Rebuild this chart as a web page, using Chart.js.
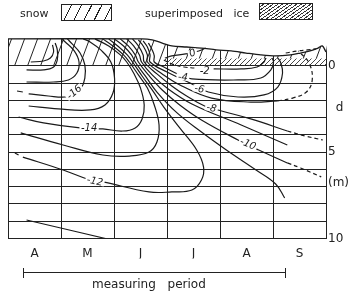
<!DOCTYPE html>
<html>
<head>
<meta charset="utf-8">
<script src="https://cdn.jsdelivr.net/npm/chart.js@4.4.1/dist/chart.umd.min.js"></script>
<style>
  html, body { margin: 0; padding: 0; background: #fff; }
  #wrap { position: relative; width: 350px; height: 293px; font-family: "DejaVu Sans", sans-serif; color: #222; }
  #wrap canvas { position: absolute; left: 0; top: 0; }
  .txt { position: absolute; white-space: pre; line-height: 14px; }
  .box { position: absolute; box-sizing: border-box; border: 1px solid #222; }
  .snowBox { left: 61px; top: 4px; width: 51px; height: 17px;
    background: repeating-linear-gradient(117deg, #fff 0px, #fff 8px, #222 8px, #222 9px); }
  .iceBox { left: 259px; top: 3px; width: 54px; height: 17px;
    background: repeating-linear-gradient(145deg, #fff 0px, #fff 1.8px, #333 1.8px, #333 2.7px); }
  .rule { position: absolute; background: #222; }
</style>
</head>
<body>
<div id="wrap">
  <canvas id="c" width="350" height="293"></canvas>
  <div class="txt" style="left:20px; top:7px; font-size:11px;">snow</div>
  <div class="box snowBox"></div>
  <div class="txt" style="left:145px; top:7px; font-size:11px; word-spacing:7px;">superimposed ice</div>
  <div class="box iceBox"></div>
  <div class="rule" style="left:23px; top:272px; width:263px; height:1px;"></div>
  <div class="rule" style="left:23px; top:268px; width:1px; height:10px;"></div>
  <div class="rule" style="left:285px; top:268px; width:1px; height:10px;"></div>
  <div class="txt" style="left:92px; top:277px; font-size:12px; word-spacing:8px;">measuring period</div>
</div>
<script>
// time axis: months since 1 April, depth axis: metres below the ice surface
const months = ['A', 'M', 'J', 'J', 'A', 'S'];
const depthGrid = [0, 1, 2, 2.4, 3, 4, 5, 6, 6.8, 7, 8, 9, 10];
const depthTickValues = [0, 2.4, 5, 6.8, 10];
const depthTickText = ['0', '  d', '5', '(m)', '10'];
const Y_MIN = -1.65;

// snow surface and layer boundaries [month, depth]
const snowSurface = [[0,-1.57],[2.53,-1.57],[2.72,-1.51],[2.91,-1.33],[3.09,-1.16],[3.37,-1.10],[3.65,-1.04],[3.93,-0.93],[4.21,-0.87],[4.49,-0.75],[4.77,-0.64],[5.05,-0.58],[5.33,-0.64],[5.52,-0.75],[5.70,-0.87],[5.85,-1.04],[5.93,-1.16],[6,-0.81]];
const snowBase = [[0,0],[2.95,0],[2.97,-0.43],[6,-0.43]];
const iceTop = [[2.96,-0.43],[6,-0.43]];
const firnDash = [[5.24,-0.75],[5.46,-0.87],[5.65,-0.93],[5.81,-0.99]];

// isotherms (deg C)
const hookA = [[0.43,-0.23],[0.67,-0.29],[0.80,-0.46],[0.86,-0.81],[0.84,-1.22]];
const hookB = [[0.35,0.23],[0.67,0.23],[0.86,0.06],[0.93,-0.35],[0.93,-0.93],[0.89,-1.33]];
const iso16b = [[0.35,0.93],[0.86,0.93],[1.14,0.81],[1.30,0.41],[1.34,-0.23],[1.25,-0.87],[1.08,-1.39],[1.01,-1.57]];
const iso16dash = [[0.17,1.45],[0.28,1.51]];
const iso16 = [[0.39,1.62],[0.76,1.74],[1.08,1.80],[1.23,1.62],[1.38,1.28],[1.45,0.70],[1.45,-0.06],[1.36,-0.75],[1.21,-1.28],[1.12,-1.57]];
const iso15 = [[0.39,2.32],[0.95,2.49],[1.55,2.55],[1.83,2.26],[1.98,1.57],[2.01,0.70],[1.94,-0.23],[1.75,-0.93],[1.55,-1.39],[1.42,-1.57]];
const iso14 = [[0.20,2.96],[0.67,3.30],[1.36,3.59],[1.79,3.65],[2.16,3.77],[2.40,3.59],[2.53,3.07],[2.57,2.26],[2.50,1.28],[2.37,0.41],[2.24,-0.23],[2.12,-0.64],[1.90,-1.16],[1.64,-1.57]];
const iso13 = [[0.24,3.88],[1.04,4.58],[1.79,5.16],[2.29,5.22],[2.66,4.99],[2.81,4.41],[2.85,3.42],[2.76,2.26],[2.63,1.28],[2.46,0.52],[2.29,-0.23],[2.18,-0.64],[1.98,-1.16],[1.79,-1.57]];
const iso12dash = [[0.13,5.04],[0.20,5.16]];
const iso12 = [[0.28,5.28],[1.04,6.03],[1.55,6.61],[1.79,6.72],[2.66,7.30],[3.09,7.30],[3.47,7.19],[3.65,6.61],[3.69,5.86],[3.56,4.87],[3.24,3.59],[2.94,2.38],[2.72,1.39],[2.53,0.58],[2.35,-0.23],[2.25,-0.64],[2.07,-1.16],[1.90,-1.57]];
const iso11 = [[2.01,-1.57],[2.18,-1.16],[2.33,-0.64],[2.40,-0.23],[2.59,0.58],[2.81,1.51],[3.19,2.72],[3.65,3.83],[4.12,4.87],[4.68,6.03],[5.05,6.84],[5.22,7.65]];
const iso11low = [[0.35,8.93],[1.84,10]];
const iso10 = [[2.12,-1.57],[2.27,-1.16],[2.40,-0.64],[2.46,-0.23],[2.65,0.52],[2.91,1.39],[3.24,2.26],[3.65,3.13],[4.34,4.29],[4.73,4.87],[5.27,5.62]];
const iso10dash = [[5.27,5.62],[5.52,5.91],[5.91,6.43]];
const iso9 = [[2.24,-1.57],[2.37,-1.16],[2.48,-0.64],[2.52,-0.23],[2.72,0.52],[3.00,1.28],[3.47,2.20],[4.40,3.42],[5.27,4.58]];
const iso8 = [[2.35,-1.57],[2.46,-1.16],[2.55,-0.64],[2.57,-0.23],[2.81,0.46],[3.09,1.16],[3.37,1.74],[3.71,2.32],[4.03,2.61],[4.58,3.07],[5.27,3.77]];
const iso8dash = [[5.27,3.77],[5.61,4.06],[5.94,4.29]];
const iso7 = [[2.46,-1.51],[2.55,-1.16],[2.63,-0.64],[2.63,-0.23],[2.91,0.46],[3.28,1.16],[3.84,1.86],[4.58,2.09],[5.09,2.03]];
const iso7dash = [[5.09,2.03],[5.37,1.86],[5.63,1.51],[5.74,0.81],[5.68,-0.17],[5.48,-0.87]];
const iso6 = [[2.55,-1.45],[2.63,-1.10],[2.68,-0.64],[2.68,-0.23],[3.00,0.35],[3.47,1.04],[3.78,1.51],[4.34,1.80],[4.83,1.68],[5.09,1.22],[5.18,0.41],[5.14,-0.23],[5.09,-0.46]];
const iso4 = [[2.65,-1.33],[2.72,-0.93],[2.76,-0.58],[2.76,-0.23],[2.94,0.06],[3.24,0.52],[3.47,0.75],[4.34,0.81],[4.77,0.70],[4.96,0.23],[5.01,-0.23],[4.98,-0.46]];
const iso2dash = [[2.94,-0.35],[3.09,-0.12],[3.32,0.06],[3.52,0.12]];
const iso2 = [[3.88,0.17],[4.40,0.17],[4.70,0.06],[4.83,-0.23],[4.86,-0.46]];
const iso0 = [[2.96,-0.46],[3.09,-0.58],[3.35,-0.70],[3.60,-0.87],[3.73,-1.04]];

// isotherm labels
const labelText = ['-16', '-14', '-12', '-10', '-8', '-6', '-4', '-2', '0'];
const labelMonth = [1.25, 1.53, 1.64, 4.53, 3.84, 3.61, 3.30, 3.71, 3.48];
const labelDepth = [1.51, 3.59, 6.67, 4.52, 2.43, 1.33, 0.64, 0.26, -0.75];
const labelAngle = [-40, 0, 12, 22, 12, 10, 5, 0, -20];

function hatch(w, h, lw, color) {
  const c = document.createElement('canvas');
  c.width = w; c.height = h;
  const g = c.getContext('2d');
  g.strokeStyle = color;
  g.lineWidth = lw;
  g.beginPath();
  for (const dx of [-w, 0, w]) { g.moveTo(dx, h); g.lineTo(dx + w, 0); }
  g.stroke();
  return g.createPattern(c, 'repeat');
}

const solid = [iso16b, hookA, hookB, iso16, iso15, iso14, iso13, iso12, iso11, iso11low,
  iso10, iso9, iso8, iso7, iso6, iso4, iso2, iso0, iso16dash, iso12dash];
const dashed = [iso10dash, iso8dash, iso7dash, iso2dash, firnDash];

const datasets = [
  { data: snowSurface, fill: 1, backgroundColor: hatch(13, 35, 1, '#222'), borderColor: '#1a1a1a', borderWidth: 1.3, tension: 0.3, order: 40 },
  { data: snowBase, fill: false, borderWidth: 0, tension: 0, order: 39 },
  { data: iceTop, fill: { value: 0 }, backgroundColor: hatch(5, 5, 0.9, '#333'), borderWidth: 0, tension: 0, order: 30 }
];
solid.forEach(d => datasets.push({ data: d, fill: false, order: 0 }));
dashed.forEach(d => datasets.push({ data: d, fill: false, borderDash: [4, 3], order: 0 }));

// blank out grid and frame above the snow surface (uses the surface line's own path)
const maskAbove = {
  id: 'maskAbove',
  beforeDatasetsDraw(chart) {
    const line = chart.getDatasetMeta(0).dataset;
    const { ctx, chartArea: a } = chart;
    ctx.save();
    ctx.beginPath();
    line.path(ctx);
    ctx.lineTo(a.right + 3, a.top - 6);
    ctx.lineTo(a.left - 3, a.top - 6);
    ctx.closePath();
    ctx.fillStyle = '#fff';
    ctx.fill();
    ctx.restore();
  }
};

const isoLabels = {
  id: 'isoLabels',
  afterDatasetsDraw(chart) {
    const { ctx, scales: { x, y } } = chart;
    ctx.save();
    ctx.font = 'italic 10px "DejaVu Sans"';
    ctx.textAlign = 'center';
    ctx.textBaseline = 'middle';
    labelText.forEach((t, i) => {
      ctx.save();
      ctx.translate(x.getPixelForValue(labelMonth[i]), y.getPixelForValue(labelDepth[i]));
      ctx.rotate(labelAngle[i] * Math.PI / 180);
      const w = ctx.measureText(t).width + 3;
      ctx.fillStyle = '#fff';
      ctx.fillRect(-w / 2, -3.5, w, 7);
      ctx.fillStyle = '#1a1a1a';
      ctx.fillText(t, 0, 0.5);
      ctx.restore();
    });
    ctx.restore();
  }
};

const gridColor = ctx => Number.isInteger(ctx.tick.value) ? '#222' : 'rgba(0,0,0,0)';

new Chart(document.getElementById('c'), {
  type: 'line',
  data: { datasets },
  options: {
    responsive: false,
    animation: false,
    events: [],
    layout: { padding: { top: 37.5, left: 4, right: 0, bottom: 34.5 } },
    plugins: { legend: { display: false }, tooltip: { enabled: false } },
    elements: {
      point: { radius: 0 },
      line: { tension: 0.4, borderWidth: 1.2, borderColor: '#1a1a1a' }
    },
    scales: {
      x: {
        type: 'linear', min: 0, max: 6,
        afterFit: s => { s.height = 20; },
        grid: { color: gridColor, lineWidth: 1, drawTicks: false },
        border: { color: '#222', width: 1 },
        ticks: {
          stepSize: 0.5, autoSkip: false, maxRotation: 0, padding: 8, color: '#222',
          font: { family: 'DejaVu Sans', size: 12 },
          callback: v => (v % 1 === 0.5 ? months[Math.floor(v)] : '')
        }
      },
      y: {
        type: 'linear', position: 'right', reverse: true, min: Y_MIN, max: 10,
        afterBuildTicks: s => { s.ticks = depthGrid.map(v => ({ value: v })); },
        afterFit: s => { s.width = 24; },
        grid: { color: gridColor, lineWidth: 1, drawTicks: false },
        border: { color: '#222', width: 1 },
        ticks: {
          autoSkip: false, padding: 2, crossAlign: 'near', color: '#222',
          font: { family: 'DejaVu Sans', size: 12 },
          callback: v => {
            const i = depthTickValues.indexOf(v);
            return i >= 0 ? depthTickText[i] : '';
          }
        }
      }
    }
  },
  plugins: [maskAbove, isoLabels]
});
</script>
</body>
</html>
